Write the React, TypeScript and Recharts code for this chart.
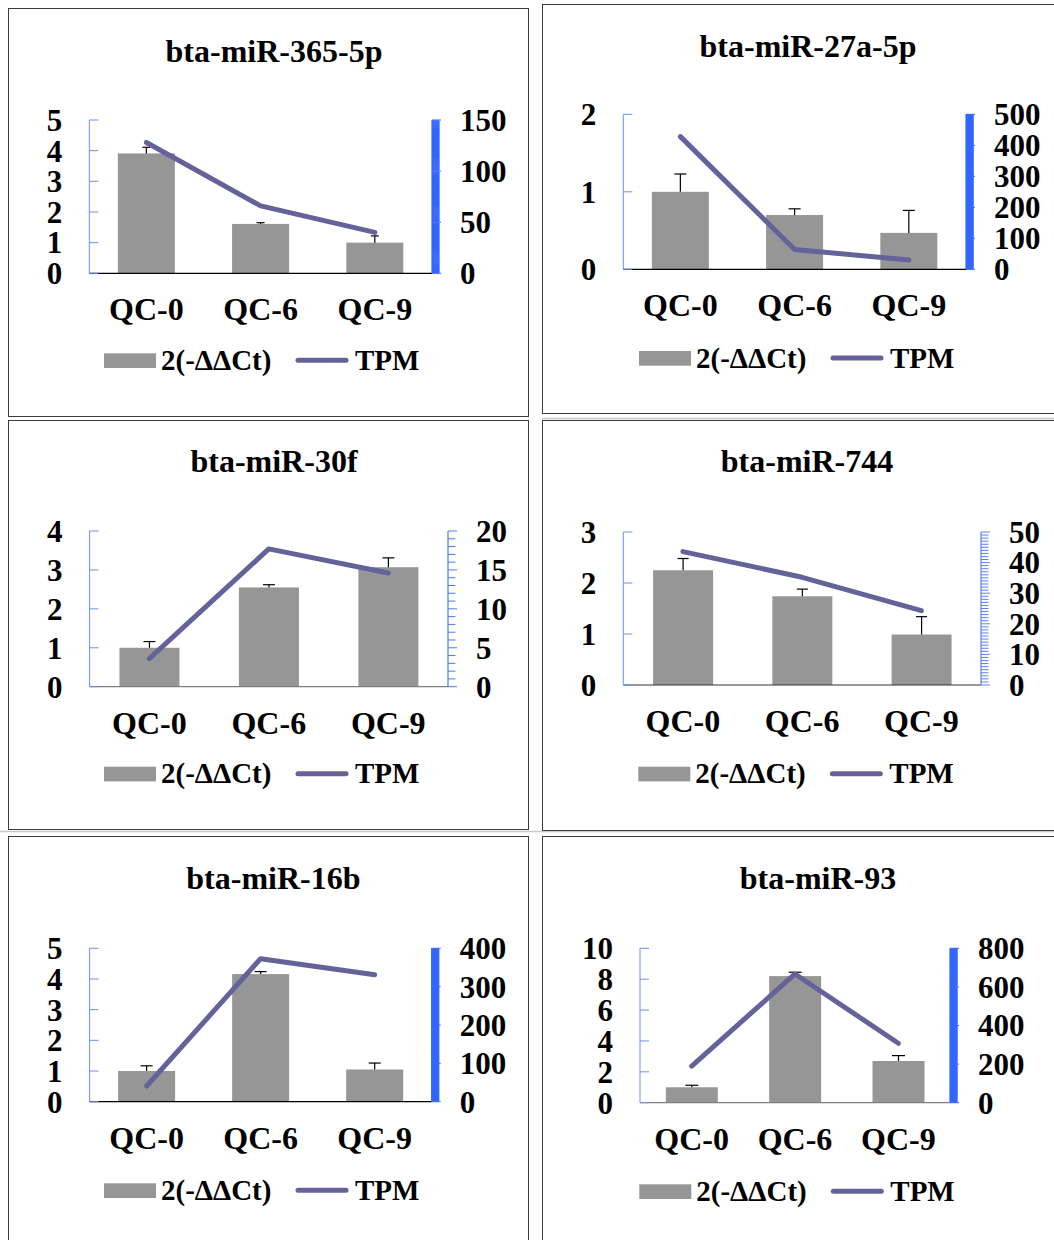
import React from 'react';
import { ComposedChart, Bar, Line, XAxis, YAxis } from 'recharts';

const FONT = "'Liberation Serif', 'Times New Roman', Times, serif";

// ---------- data ----------
const categories = ['QC-0', 'QC-6', 'QC-9'];

const qpcr365 = [3.91, 1.61, 1.0];
const err365 = [0.2, 0.04, 0.22];
const tpm365 = [128, 66, 40];

const qpcr27a = [1.0, 0.7, 0.47];
const err27a = [0.23, 0.08, 0.29];
const tpm27a = [428, 64, 30];

const qpcr30f = [1.0, 2.55, 3.07];
const err30f = [0.16, 0.07, 0.24];
const tpm30f = [3.6, 17.7, 14.6];

const qpcr744 = [2.25, 1.74, 0.99];
const err744 = [0.23, 0.14, 0.35];
const tpm744 = [43.6, 35.2, 24.3];

const qpcr16b = [1.0, 4.16, 1.05];
const err16b = [0.17, 0.08, 0.21];
const tpm16b = [41, 373, 331];

const qpcr93 = [1.0, 8.2, 2.7];
const err93 = [0.13, 0.25, 0.35];
const tpm93 = [190, 667, 308];

const legendBarLabel = '2(-ΔΔCt)';
const legendLineLabel = 'TPM';

// ---------- panel specs (layout & styling) ----------
type Panel = {
  title: string;
  q: number[];
  e: number[];
  t: number[];
  leftMax: number;
  leftStep: number;
  rightMax: number;
  rightMajor: number;
  rightMinor: number;
  minorWidth: number;
  box: { x: number; y: number; w: number; h: number };
  plot: { L: number; R: number; T: number; B: number };
  titlePos: [number, number];
  legend: [number, number];
  cap: number;
  xColor: string;
  rColor: string;
};

const panels: Panel[] = [
  {
    title: 'bta-miR-365-5p', q: qpcr365, e: err365, t: tpm365,
    leftMax: 5, leftStep: 1, rightMax: 150, rightMajor: 50, rightMinor: 1, minorWidth: 1.6,
    box: { x: 8, y: 8, w: 520, h: 408 }, plot: { L: 89.3, R: 432, T: 120, B: 273.3 },
    titlePos: [274, 61.7], legend: [104, 353.3], cap: 4, xColor: '#000', rColor: '#3366ff',
  },
  {
    title: 'bta-miR-27a-5p', q: qpcr27a, e: err27a, t: tpm27a,
    leftMax: 2, leftStep: 1, rightMax: 500, rightMajor: 100, rightMinor: 2, minorWidth: 1.6,
    box: { x: 542, y: 4, w: 600, h: 409 }, plot: { L: 623.3, R: 966, T: 114.3, B: 269.3 },
    titlePos: [808, 56.7], legend: [639, 351], cap: 6, xColor: '#000', rColor: '#3366ff',
  },
  {
    title: 'bta-miR-30f', q: qpcr30f, e: err30f, t: tpm30f,
    leftMax: 4, leftStep: 1, rightMax: 20, rightMajor: 5, rightMinor: 1, minorWidth: 1,
    box: { x: 8, y: 420, w: 520, h: 409 }, plot: { L: 89.6, R: 448, T: 531, B: 686.7 },
    titlePos: [274, 472.3], legend: [104, 766.7], cap: 6, xColor: '#7f7f7f', rColor: '#4f78f3',
  },
  {
    title: 'bta-miR-744', q: qpcr744, e: err744, t: tpm744,
    leftMax: 3, leftStep: 1, rightMax: 50, rightMajor: 10, rightMinor: 1, minorWidth: 1,
    box: { x: 542, y: 420, w: 600, h: 410 }, plot: { L: 623.3, R: 981, T: 532, B: 685 },
    titlePos: [807, 472.3], legend: [638.3, 766.7], cap: 5.5, xColor: '#333', rColor: '#5a80f2',
  },
  {
    title: 'bta-miR-16b', q: qpcr16b, e: err16b, t: tpm16b,
    leftMax: 5, leftStep: 1, rightMax: 400, rightMajor: 100, rightMinor: 2, minorWidth: 1.6,
    box: { x: 8, y: 836, w: 520, h: 500 }, plot: { L: 89.6, R: 431.7, T: 948.3, B: 1101.7 },
    titlePos: [273.4, 889.3], legend: [104, 1183.3], cap: 6, xColor: '#000', rColor: '#3366ff',
  },
  {
    title: 'bta-miR-93', q: qpcr93, e: err93, t: tpm93,
    leftMax: 10, leftStep: 2, rightMax: 800, rightMajor: 200, rightMinor: 4, minorWidth: 1.6,
    box: { x: 542, y: 836, w: 600, h: 500 }, plot: { L: 640, R: 950, T: 948.3, B: 1102.7 },
    titlePos: [818, 889.3], legend: [639.3, 1184.3], cap: 6.5, xColor: '#7f7f7f', rColor: '#3366ff',
  },
];

const BAR_FILL = '#969696';
const LINE_COLOR = '#63639a';
const LEFT_AXIS_COLOR = '#6b8ff5';
const YW = 60;
const XH = 60;
const CHART_W = 510;
const CHART_H = 400;
const LEFT_GAP = 27;
const RIGHT_GAP = 28;
const TITLE_SIZE = 32;
const XTICK_SIZE = 32;
const YTICK_SIZE = 31;
const LEGEND_SIZE = 29;

function steps(max: number, step: number): number[] {
  const out: number[] = [];
  for (let v = 0; v <= max + 1e-9; v += step) out.push(Math.round(v * 1000) / 1000);
  return out;
}

const makeBarShape = (capHalf: number) => (props: any) => {
  const { x, y, width, height, payload } = props;
  const v = payload.q;
  const ppu = v ? height / v : 0;
  const top = y - payload.err * ppu;
  const cx = x + width / 2;
  return (
    <g>
      <rect x={x} y={y} width={width} height={height} fill={BAR_FILL} />
      <line x1={cx} x2={cx} y1={y} y2={top} stroke="#000" strokeWidth={1.2} />
      <line x1={cx - capHalf} x2={cx + capHalf} y1={top} y2={top} stroke="#000" strokeWidth={1.2} />
    </g>
  );
};

const textStyle = { fontFamily: FONT, fontWeight: 700 as const };

function ChartPanel({ p }: { p: Panel }) {
  const data = categories.map((c, i) => ({ cat: c, q: p.q[i], err: p.e[i], tpm: p.t[i] }));
  const left = p.box.x + 1;
  const top = p.box.y + 1;
  const margin = {
    top: p.plot.T - top,
    left: p.plot.L - left - YW,
    right: left + CHART_W - p.plot.R - YW,
    bottom: top + CHART_H - p.plot.B - XH,
  };
  const leftTicks = steps(p.leftMax, p.leftStep);
  const rightTicks = steps(p.rightMax, p.rightMinor);

  const leftTick = (tp: any) => {
    const { x, y, payload } = tp;
    const ax = x + LEFT_GAP;
    return (
      <g>
        <line x1={ax} x2={ax + 9} y1={y} y2={y} stroke={LEFT_AXIS_COLOR} strokeWidth={1} />
        <text x={x} y={y} dy="0.35em" textAnchor="end" fontSize={YTICK_SIZE} fill="#000" style={textStyle}>
          {payload.value}
        </text>
      </g>
    );
  };

  const rightTick = (tp: any) => {
    const { x, y, payload } = tp;
    const ax = x - RIGHT_GAP;
    const v = payload.value;
    const major = Math.abs(v / p.rightMajor - Math.round(v / p.rightMajor)) < 1e-6;
    return (
      <g>
        <line
          x1={ax}
          x2={ax + (major ? 9 : 7.5)}
          y1={y}
          y2={y}
          stroke={p.rColor}
          strokeWidth={major ? 1 : p.minorWidth}
        />
        {major ? (
          <text x={x} y={y} dy="0.35em" textAnchor="start" fontSize={YTICK_SIZE} fill="#000" style={textStyle}>
            {v}
          </text>
        ) : null}
      </g>
    );
  };

  const xTick = (tp: any) => {
    const { x, y, payload } = tp;
    return (
      <text x={x} y={y + 47} textAnchor="middle" fontSize={XTICK_SIZE} fill="#000" style={textStyle}>
        {payload.value}
      </text>
    );
  };

  return (
    <div style={{ position: 'absolute', left, top, width: CHART_W, height: CHART_H }}>
      <ComposedChart width={CHART_W} height={CHART_H} data={data} margin={margin} barCategoryGap="25%">
        <XAxis
          dataKey="cat"
          height={XH}
          interval={0}
          tickLine={false}
          tickSize={0}
          tickMargin={0}
          axisLine={{ stroke: p.xColor, strokeWidth: 1.2 }}
          tick={xTick}
        />
        <YAxis
          yAxisId="left"
          orientation="left"
          width={YW}
          domain={[0, p.leftMax]}
          ticks={leftTicks}
          interval={0}
          tickLine={false}
          tickSize={0}
          tickMargin={LEFT_GAP}
          axisLine={{ stroke: LEFT_AXIS_COLOR, strokeWidth: 1 }}
          tick={leftTick}
        />
        <YAxis
          yAxisId="right"
          orientation="right"
          width={YW}
          domain={[0, p.rightMax]}
          ticks={rightTicks}
          interval={0}
          tickLine={false}
          tickSize={0}
          tickMargin={RIGHT_GAP}
          axisLine={{ stroke: p.rColor, strokeWidth: 1.2 }}
          tick={rightTick}
        />
        <Bar
          yAxisId="left"
          dataKey="q"
          fill={BAR_FILL}
          shape={makeBarShape(p.cap)}
          isAnimationActive={false}
        />
        <Line
          yAxisId="right"
          type="linear"
          dataKey="tpm"
          stroke={LINE_COLOR}
          strokeWidth={5}
          strokeLinecap="round"
          strokeLinejoin="round"
          dot={false}
          activeDot={false}
          isAnimationActive={false}
        />
      </ComposedChart>
    </div>
  );
}

function Overlay() {
  return (
    <svg
      width={1054}
      height={1240}
      style={{ position: 'absolute', left: 0, top: 0, pointerEvents: 'none' }}
    >
      <line x1={542} x2={1054} y1={418.5} y2={418.5} stroke="#c8c8c8" strokeWidth={1.5} />
      <line x1={0} x2={1054} y1={831.5} y2={831.5} stroke="#c8c8c8" strokeWidth={1.5} />
      {panels.map((p, i) => (
        <g key={i}>
          <rect
            x={p.box.x + 0.5}
            y={p.box.y + 0.5}
            width={p.box.w}
            height={p.box.h}
            fill="none"
            stroke="#3c3c3c"
            strokeWidth={1}
          />
          <text
            x={p.titlePos[0]}
            y={p.titlePos[1]}
            textAnchor="middle"
            fontSize={TITLE_SIZE}
            fill="#000"
            style={textStyle}
          >
            {p.title}
          </text>
          <rect x={p.legend[0]} y={p.legend[1]} width={52} height={14.7} fill={BAR_FILL} />
          <text x={p.legend[0] + 57} y={p.legend[1] + 16.5} fontSize={LEGEND_SIZE} fill="#000" style={textStyle}>
            {legendBarLabel}
          </text>
          <line
            x1={p.legend[0] + 194}
            x2={p.legend[0] + 242}
            y1={p.legend[1] + 7}
            y2={p.legend[1] + 7}
            stroke={LINE_COLOR}
            strokeWidth={5}
            strokeLinecap="round"
          />
          <text x={p.legend[0] + 251} y={p.legend[1] + 16.5} fontSize={LEGEND_SIZE} fill="#000" style={textStyle}>
            {legendLineLabel}
          </text>
        </g>
      ))}
    </svg>
  );
}

export default function App() {
  return (
    <div
      style={{
        position: 'absolute',
        left: 0,
        top: 0,
        width: 1054,
        height: 1240,
        overflow: 'hidden',
        background: '#fff',
      }}
    >
      {panels.map((p, i) => (
        <ChartPanel key={i} p={p} />
      ))}
      <Overlay />
    </div>
  );
}
